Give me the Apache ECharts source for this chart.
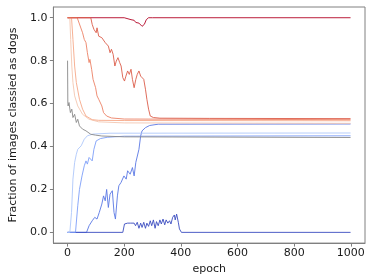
<!DOCTYPE html>
<html>
<head>
<meta charset="utf-8">
<script src="https://cdn.jsdelivr.net/npm/echarts@6/dist/echarts.min.js"></script>
<style>
html,body{margin:0;padding:0;background:#fff;}
#chart{width:374px;height:280px;}
</style>
</head>
<body>
<div id="chart"></div>
<script>
// ---- data ----
const xTicks = [0, 200, 400, 600, 800, 1000];
const yTicks = [0, 0.2, 0.4, 0.6, 0.8, 1.0];

const darkRedEpochs = [0, 200, 207, 224, 235, 241, 246, 252, 258, 263, 267, 271, 278, 286, 300, 999];
const darkRedValues = [1, 1, 1.0, 0.991, 0.988, 0.978, 0.983, 0.975, 0.983, 0.96, 0.953, 0.969, 0.991, 1.0, 1, 1];

const royalEpochs = [0, 67, 76, 87, 96, 104, 112, 121, 127, 133, 138, 144, 150, 158, 164, 169, 176, 181, 189, 199, 207, 212, 221, 229, 235, 241, 246, 252, 258, 263, 275, 290, 320, 999];
const royalValues = [0, 0.0, 0.031, 0.054, 0.07, 0.062, 0.093, 0.132, 0.17, 0.147, 0.2, 0.116, 0.178, 0.194, 0.093, 0.062, 0.17, 0.217, 0.233, 0.263, 0.248, 0.287, 0.271, 0.302, 0.263, 0.326, 0.333, 0.387, 0.449, 0.473, 0.488, 0.498, 0.504, 0.505];

const darkBlueEpochs = [0, 195, 201, 206, 212, 218, 223, 229, 235, 240, 246, 252, 258, 263, 269, 275, 280, 286, 292, 297, 303, 309, 314, 320, 326, 331, 337, 343, 348, 354, 360, 365, 371, 377, 380, 385, 391, 395, 402, 999];
const darkBlueValues = [0, 0, 0.039, 0.031, 0.043, 0.035, 0.043, 0.037, 0.043, 0.031, 0.047, 0.019, 0.043, 0.023, 0.047, 0.019, 0.043, 0.028, 0.054, 0.031, 0.058, 0.019, 0.05, 0.031, 0.058, 0.039, 0.062, 0.035, 0.058, 0.043, 0.054, 0.039, 0.07, 0.081, 0.058, 0.085, 0.047, 0.016, 0, 0];

const mediumBlueEpochs = [0, 28, 36, 42, 51, 59, 65, 70, 76, 82, 87, 93, 101, 116, 140, 200, 999];
const mediumBlueValues = [0, 0, 0.124, 0.2, 0.263, 0.31, 0.333, 0.318, 0.349, 0.341, 0.333, 0.387, 0.426, 0.437, 0.443, 0.448, 0.45];

const lightBlueEpochs = [0, 8, 14, 19, 25, 31, 36, 42, 48, 59, 70, 90, 150, 999];
const lightBlueValues = [0, 0, 0.093, 0.248, 0.326, 0.364, 0.387, 0.38, 0.403, 0.434, 0.45, 0.458, 0.462, 0.463];

const greyEpochs = [0, 1, 2, 5, 10, 15, 19, 25, 31, 36, 42, 48, 53, 59, 65, 70, 82, 99, 121, 200, 999];
const greyValues = [0.8, 0.6, 0.589, 0.605, 0.558, 0.574, 0.535, 0.55, 0.512, 0.527, 0.496, 0.504, 0.481, 0.488, 0.473, 0.465, 0.457, 0.453, 0.449, 0.445, 0.442];

const palePinkEpochs = [0, 8, 11, 15, 19, 25, 36, 53, 76, 110, 200, 999];
const palePinkValues = [1, 1, 0.899, 0.775, 0.698, 0.636, 0.589, 0.55, 0.527, 0.515, 0.51, 0.508];

const lightSalmonEpochs = [0, 14, 19, 25, 31, 42, 53, 65, 87, 110, 200, 999];
const lightSalmonValues = [1, 1, 0.899, 0.775, 0.698, 0.62, 0.574, 0.542, 0.525, 0.522, 0.521, 0.52];

const salmonEpochs = [0, 34, 53, 59, 65, 70, 76, 79, 85, 90, 99, 104, 110, 116, 121, 127, 138, 155, 200, 999];
const salmonValues = [1, 1, 0.93, 0.899, 0.884, 0.837, 0.791, 0.806, 0.76, 0.713, 0.674, 0.636, 0.62, 0.628, 0.589, 0.558, 0.542, 0.533, 0.528, 0.525];

const redOrangeEpochs = [0, 82, 87, 93, 101, 104, 110, 121, 133, 144, 150, 155, 161, 167, 172, 178, 184, 189, 195, 201, 206, 212, 218, 224, 229, 235, 241, 246, 252, 258, 263, 269, 275, 280, 286, 292, 303, 326, 500, 999];
const redOrangeValues = [1, 1, 0.969, 0.946, 0.93, 0.953, 0.914, 0.907, 0.884, 0.868, 0.837, 0.853, 0.829, 0.775, 0.798, 0.814, 0.791, 0.775, 0.721, 0.705, 0.728, 0.752, 0.736, 0.76, 0.713, 0.674, 0.713, 0.736, 0.752, 0.728, 0.736, 0.713, 0.667, 0.62, 0.574, 0.542, 0.535, 0.532, 0.531, 0.53];

// ---- build ----
function pairs(xs, ys) { return xs.map((x, i) => [x, ys[i]]); }

const seriesDefs = [
  { name: 'r', color: '#b40426', xs: darkRedEpochs, ys: darkRedValues },
  { name: 'rb', color: '#5a78e4', xs: royalEpochs, ys: royalValues },
  { name: 'db', color: '#3b4cc0', xs: darkBlueEpochs, ys: darkBlueValues },
  { name: 'mb', color: '#7d9ff8', xs: mediumBlueEpochs, ys: mediumBlueValues },
  { name: 'lb', color: '#aec8fb', xs: lightBlueEpochs, ys: lightBlueValues },
  { name: 'g', color: '#8a8a8a', xs: greyEpochs, ys: greyValues },
  { name: 'pp', color: '#f4c6b0', xs: palePinkEpochs, ys: palePinkValues },
  { name: 'ls', color: '#f6a888', xs: lightSalmonEpochs, ys: lightSalmonValues },
  { name: 's', color: '#ec8266', xs: salmonEpochs, ys: salmonValues },
  { name: 'ro', color: '#dc5d4a', xs: redOrangeEpochs, ys: redOrangeValues }
];

const frameColor = '#808080';
const textColor = '#1a1a1a';
const font = 'DejaVu Sans';
const chart = echarts.init(document.getElementById('chart'), null, { renderer: 'canvas' });
chart.setOption({
  animation: false,
  grid: { left: 43, right: 9, top: 7, bottom: 36, show: true, borderColor: frameColor, borderWidth: 1, backgroundColor: '#fff' },
  xAxis: {
    type: 'value', min: -50, max: 1050,
    name: 'epoch', nameLocation: 'middle', nameGap: 18,
    nameTextStyle: { fontFamily: font, fontSize: 11, color: textColor },
    splitLine: { show: false },
    axisLine: { show: true, onZero: false, lineStyle: { color: frameColor, width: 1 } },
    axisTick: { show: true, length: 3.5, lineStyle: { color: frameColor }, customValues: xTicks },
    axisLabel: { customValues: xTicks, margin: 5, fontFamily: font, fontSize: 11, color: textColor,
      formatter: v => String(Math.round(v)) }
  },
  yAxis: {
    type: 'value', min: -0.05, max: 1.05,
    name: 'Fraction of images classied as dogs', nameLocation: 'middle', nameGap: 26,
    nameTextStyle: { fontFamily: font, fontSize: 11, color: textColor },
    splitLine: { show: false },
    axisLine: { show: true, onZero: false, lineStyle: { color: frameColor, width: 1 } },
    axisTick: { show: true, length: 3.5, lineStyle: { color: frameColor }, customValues: yTicks },
    axisLabel: { customValues: yTicks, margin: 6, fontFamily: font, fontSize: 11, color: textColor,
      formatter: v => v.toFixed(1) }
  },
  series: seriesDefs.map(s => ({
    type: 'line', name: s.name, data: pairs(s.xs, s.ys), showSymbol: false, symbol: 'none',
    lineStyle: { color: s.color, width: 1, opacity: 0.9 }, clip: true, silent: true
  }))
});
</script>
</body>
</html>
